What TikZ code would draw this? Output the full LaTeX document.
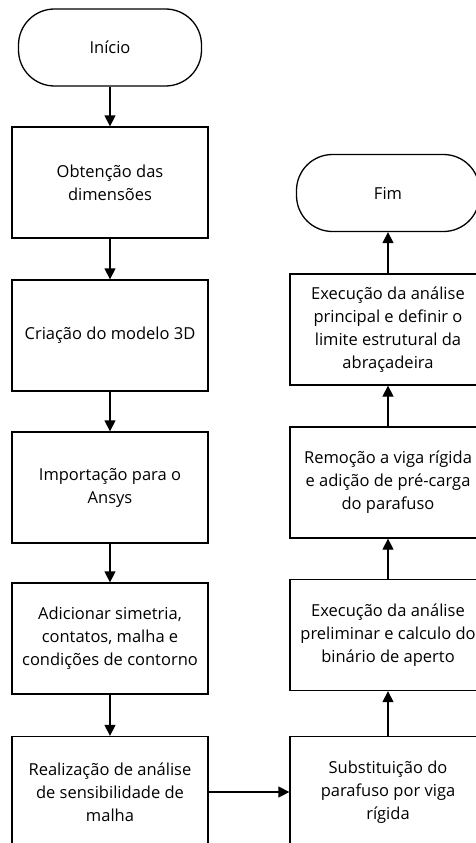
\documentclass[tikz,border=0pt]{standalone}
\usepackage{fontspec}
\setmainfont{Open Sans}
\usetikzlibrary{
    arrows.meta,
    positioning
}
\tikzset{
  block/.style = {draw, line width=1.3pt, minimum width=196pt,
                  minimum height=111pt, align=center,
                  font=\fontsize{16.5}{23}\selectfont},
  term/.style  = {draw, line width=1.3pt, rounded corners=36pt,
                  minimum width=183pt, minimum height=77pt,
                  font=\fontsize{16.5}{23}\selectfont},
  arr/.style   = {-{Triangle[length=11pt,width=11pt]}, line width=1.3pt}
}

\begin{document}
\begin{tikzpicture}[x=1pt, y=-1pt]
    \clip (0,0) rectangle (476,843);

    % left column
    \node[term]  (inicio) at (110,47.5)  {Início};
    \node[block] (obt)    at (110,182.5) {Obtenção das\\dimensões};
    \node[block] (cria)   at (110,335.5) {Criação do modelo 3D};
    \node[block] (imp)    at (110,487.5) {Importação para o\\Ansys};
    \node[block] (adic)   at (110,638.5) {Adicionar simetria,\\contatos, malha e\\condições de contorno};
    \node[block] (real)   at (110,792)   {Realização de análise\\de sensibilidade de\\malha};

    % right column
    \node[block] (subs)   at (388,792)   {Substituição do\\parafuso por viga\\rígida};
    \node[block] (prel)   at (388,635)   {Execução da análise\\preliminar e calculo do\\binário de aperto};
    \node[block] (remo)   at (388,482.5) {Remoção a viga rígida\\e adição de pré-carga\\do parafuso};
    \node[block] (princ)  at (388,329.5) {Execução da análise\\principal e definir o\\limite estrutural da\\abraçadeira};
    \node[term]  (fim)    at (388,193)   {Fim};

    % arrows
    \foreach \a/\b in {inicio/obt, obt/cria, cria/imp, imp/adic, adic/real,
                       subs/prel, prel/remo, remo/princ, princ/fim}
      \draw[arr] (\a) -- (\b);
    \draw[arr] (real) -- (subs);
\end{tikzpicture}
\end{document}
